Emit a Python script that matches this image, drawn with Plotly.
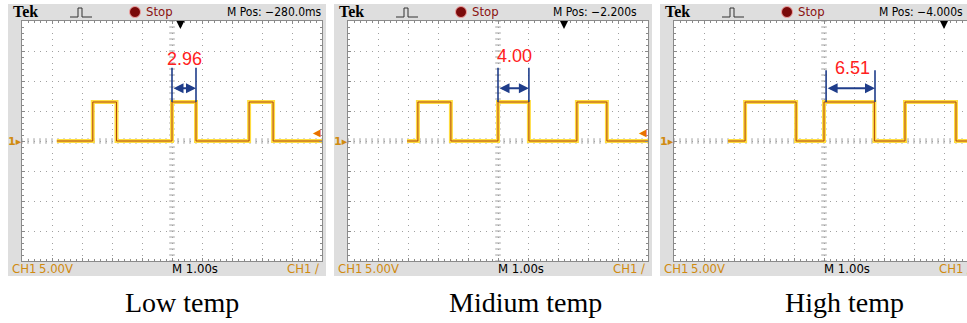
import plotly.graph_objects as go
import numpy as np

W, H = 967, 323

# ---------------- data ----------------
panel_names = ["Low temp", "Midium temp", "High temp"]
m_pos_labels = ["M Pos: \u2212280.0ms", "M Pos: \u22122.200s", "M Pos: \u22124.000s"]
m_pos_seconds = [-0.28, -2.2, -4.0]
# edge times in seconds (1.00 s/div): trace start, rise, fall, rise, fall, rise, fall, trace end
low_edges = [-3.84, -2.64, -1.85, 0.0, 0.8, 2.57, 3.37, 5.0]
mid_edges = [-3.03, -2.67, -1.57, 0.0, 1.03, 2.63, 3.63, 5.0]
high_edges = [-3.2, -2.63, -0.93, 0.0, 1.68, 2.7, 4.4, 4.8]
pulse_levels_v = [0, 6.5, 0, 6.5, 0, 6.5, 0, 0]
meas_values = ["2.96", "4.00", "6.51"]
meas_start = [0.0, 0.0, 0.07]
meas_end = [0.8, 1.03, 1.7]
volts_div_label = "5.00V"
time_div_label = "M 1.00s"
trigger_level_v = 1.5

edges_all = [low_edges, mid_edges, high_edges]

# ---------------- geometry ----------------
plot_left = [22, 348, 674]
plot_top, plot_bot = 21, 261
PX_DIV = 30.0


def px(x):
    return x / W


def py(y):
    return 1 - y / H


fig = go.Figure()

ORANGE = "#d08a10"
GRID = "#a0a0a0"
BORDER = "#8a8a8a"
FOOT_FONT = "Liberation Sans Narrow, DejaVu Sans Condensed, Arial Narrow, sans-serif"

shapes = []
annotations = []


def text(x, y, s, size, color, family=FOOT_FONT, xanchor="left", xref="paper", yref="paper"):
    annotations.append(dict(x=x, y=y, xref=xref, yref=yref, text=s, showarrow=False,
                            xanchor=xanchor, yanchor="middle",
                            font=dict(family=family, size=size, color=color)))


for i in range(3):
    L = plot_left[i]
    R = min(L + 300, W)
    xa = "x" if i == 0 else f"x{i+1}"
    ya = "y" if i == 0 else f"y{i+1}"
    xkey = "xaxis" if i == 0 else f"xaxis{i+1}"
    ykey = "yaxis" if i == 0 else f"yaxis{i+1}"
    xmax = -5 + (R - L) / PX_DIV

    fig.update_layout(**{
        xkey: dict(domain=[px(L), px(R)], range=[-5, xmax], anchor=ya,
                   showgrid=True, gridcolor=GRID, griddash="1px,5px", gridwidth=1,
                   dtick=1, tick0=0, zeroline=False, showticklabels=False,
                   ticks="inside", ticklen=3, tickcolor=BORDER,
                   showline=True, linecolor=BORDER, linewidth=1, mirror="ticks",
                   minor=dict(dtick=0.2, tick0=0, ticks="inside", ticklen=2,
                              tickcolor=BORDER, showgrid=False),
                   fixedrange=True),
        ykey: dict(domain=[py(plot_bot), py(plot_top)], range=[-20, 20], anchor=xa,
                   showgrid=True, gridcolor=GRID, griddash="1px,5px", gridwidth=1,
                   dtick=5, tick0=0, zeroline=False, showticklabels=False,
                   ticks="inside", ticklen=3, tickcolor=BORDER,
                   showline=True, linecolor=BORDER, linewidth=1,
                   mirror=("ticks" if i < 2 else False),
                   minor=dict(dtick=1, tick0=0, ticks="inside", ticklen=2,
                              tickcolor=BORDER, showgrid=False),
                   fixedrange=True),
    })

    # gray bezel + white screen
    shapes.append(dict(type="rect", xref="paper", yref="paper", layer="below",
                       x0=px(L - 14), x1=px(min(L + 304, W)), y0=py(276), y1=py(4),
                       fillcolor="#dedede", line=dict(width=0)))
    shapes.append(dict(type="rect", xref="paper", yref="paper", layer="below",
                       x0=px(L), x1=px(R), y0=py(plot_bot), y1=py(plot_top),
                       fillcolor="white", line=dict(width=0)))

    # center graticule ticks
    yt = np.arange(-20, 20.01, 1.0)
    xt = np.arange(-5, xmax + 0.001, 0.2)
    fig.add_trace(go.Scatter(x=[0] * len(yt), y=yt, mode="markers", xaxis=xa, yaxis=ya,
                             marker=dict(symbol="line-ew", size=4,
                                         line=dict(color=GRID, width=1)),
                             hoverinfo="skip", showlegend=False))
    fig.add_trace(go.Scatter(x=xt, y=[0] * len(xt), mode="markers", xaxis=xa, yaxis=ya,
                             marker=dict(symbol="line-ns", size=4,
                                         line=dict(color=GRID, width=1)),
                             hoverinfo="skip", showlegend=False))

    # waveform (glow + core)
    ed = edges_all[i]
    fig.add_trace(go.Scatter(x=ed, y=pulse_levels_v, mode="lines", line_shape="hv",
                             xaxis=xa, yaxis=ya, line=dict(color="#ffdd40", width=4),
                             hoverinfo="skip", showlegend=False))
    fig.add_trace(go.Scatter(x=ed, y=pulse_levels_v, mode="lines", line_shape="hv",
                             xaxis=xa, yaxis=ya, line=dict(color="#b0440c", width=1),
                             hoverinfo="skip", showlegend=False))

    # measurement bracket
    s, e = meas_start[i], meas_end[i]
    ytop = 12.2 if i < 2 else 11.8
    fig.add_trace(go.Scatter(x=[s, s, None, e, e], y=[ytop, 6.5, None, ytop, 6.5],
                             mode="lines", xaxis=xa, yaxis=ya,
                             line=dict(color="#1f3d8a", width=1.6),
                             hoverinfo="skip", showlegend=False))
    annotations.append(dict(x=e, y=8.8, ax=s, ay=8.8, xref=xa, yref=ya, axref=xa, ayref=ya,
                            showarrow=True, arrowhead=2, arrowside="end+start",
                            arrowsize=1, arrowwidth=2, arrowcolor="#1f3d8a", text=""))
    lab_y = [13.7, 14.2, 12.1][i]
    text((s + e) / 2 + [0.0, 0.05, 0.07][i], lab_y, meas_values[i], 18, "#ff2020",
         family="Liberation Sans, Arial, sans-serif", xanchor="center", xref=xa, yref=ya)

    # trigger position arrow (top)
    annotations.append(dict(x=-m_pos_seconds[i], y=py(29), xref=xa, yref="paper",
                            ax=0, ay=-8, showarrow=True, arrowhead=2, arrowsize=1,
                            arrowwidth=1.6, arrowcolor="black", text=""))

    # ground marker
    text(px(L - 7), 0, "<b>1\u25B8</b>", 11, ORANGE, family="DejaVu Sans, sans-serif",
         xanchor="center", yref=ya)
    # trigger level marker
    if L + 300 - 5 < W:
        text(px(L + 295), trigger_level_v, "\u25C0", 10, "#e87000",
             family="DejaVu Sans, sans-serif", xanchor="center", yref=ya)

    # header
    text(px(L + 3), py(12), "<b>Tek</b>", 16, "black", family="Liberation Serif, serif",
         xanchor="center")
    ix = L + 48
    icon = (f"M {px(ix)},{py(17)} L {px(ix+8)},{py(17)} L {px(ix+8)},{py(8)} "
            f"L {px(ix+12)},{py(8)} L {px(ix+12)},{py(17)} L {px(ix+22)},{py(17)}")
    shapes.append(dict(type="path", xref="paper", yref="paper", path=icon,
                       line=dict(color="#333333", width=1)))
    cx = L + 113
    shapes.append(dict(type="circle", xref="paper", yref="paper",
                       x0=px(cx - 5.5), x1=px(cx + 5.5), y0=py(17.5), y1=py(6.5),
                       fillcolor="#7a0a0a", line=dict(color="#f0a0a0", width=1)))
    text(px(L + 122), py(12), "Stop", 13, "#8a1010")
    text(px(L + 203), py(12), m_pos_labels[i], 12, "black")

    # footer
    text(px(L - 12), py(268), "CH1", 13, ORANGE)
    text(px(L + 15), py(268), volts_div_label, 13, ORANGE)
    text(px(L + 148), py(268), time_div_label, 13, "black")
    text(px(L + 263), py(268), "CH1 \u2215", 13, ORANGE)

# captions
caption_x = [182, 525, 844]
for i in range(3):
    text(px(caption_x[i]), py(302), panel_names[i], 28, "black",
         family="Liberation Serif, Times New Roman, serif", xanchor="center")

fig.update_layout(width=W, height=H, autosize=False,
                  margin=dict(l=0, r=0, t=0, b=0, pad=0),
                  paper_bgcolor="white", plot_bgcolor="rgba(0,0,0,0)",
                  showlegend=False, shapes=shapes, annotations=annotations)

fig.write_html("out.html", config={"displayModeBar": False})
